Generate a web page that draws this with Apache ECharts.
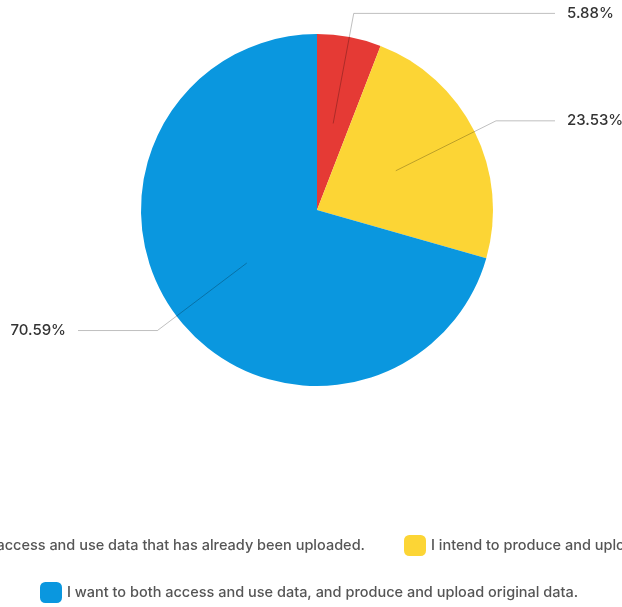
<!DOCTYPE html>
<html>
<head>
<meta charset="utf-8">
<script src="https://cdn.jsdelivr.net/npm/echarts@6/dist/echarts.min.js"></script>
<style>
html,body{margin:0;padding:0;background:#fff;}
#chart{width:622px;height:607px;}
</style>
</head>
<body>
<div id="chart"></div>
<script>
const categories = [
  "I want to access and use data that has already been uploaded.",
  "I intend to produce and upload original data.",
  "I want to both access and use data, and produce and upload original data."
];
const percentValues = [5.88, 23.53, 70.59];
const sliceColors = ["#E53A35", "#FCD535", "#0A97DF"];

const FONT = "Inter";
const CENTER = [317, 210];
const RADIUS = 176;

const chart = echarts.init(document.getElementById('chart'), null, {renderer: 'canvas'});

const total = percentValues.reduce((a, b) => a + b, 0);
const cum = [];
let acc = 0;
percentValues.forEach(v => { cum.push(acc + v / 2); acc += v; });

function pointAt(idx, r) {
  const theta = Math.PI / 2 - 2 * Math.PI * (cum[idx] / total);
  return [CENTER[0] + r * Math.cos(theta), CENTER[1] - r * Math.sin(theta)];
}

const LEGEND_FS = 14.5;
const cvs = document.createElement('canvas').getContext('2d');
cvs.font = '500 ' + LEGEND_FS + 'px ' + FONT;
const item1W = cvs.measureText(categories[0]).width;
const legend1Left = 365 - 22 - 5 - item1W;

const pieData = categories.map((c, i) => ({name: c, value: percentValues[i]}));

const legendText = {fontFamily: FONT, fontSize: LEGEND_FS, fontWeight: 500, color: '#555'};

const option = {
  animation: false,
  color: sliceColors,
  legend: [
    {
      data: [categories[0], categories[1]],
      left: legend1Left,
      top: 535,
      width: 1400,
      padding: 0,
      itemGap: 39,
      itemWidth: 22,
      itemHeight: 21,
      icon: 'roundRect',
      textStyle: legendText
    },
    {
      data: [categories[2]],
      left: 40,
      top: 582,
      padding: 0,
      itemWidth: 22,
      itemHeight: 21,
      icon: 'roundRect',
      textStyle: legendText
    }
  ],
  series: [
    {
      type: 'pie',
      center: CENTER,
      radius: RADIUS,
      startAngle: 90,
      clockwise: true,
      z: 2,
      data: pieData,
      label: {show: false},
      labelLine: {show: false},
      emphasis: {disabled: true}
    },
    {
      type: 'pie',
      center: CENTER,
      radius: RADIUS,
      startAngle: 90,
      clockwise: true,
      z: 5,
      silent: true,
      avoidLabelOverlap: false,
      data: pieData,
      itemStyle: {color: 'rgba(0,0,0,0)'},
      emphasis: {disabled: true},
      label: {
        show: true,
        position: 'outside',
        formatter: p => percentValues[p.dataIndex].toFixed(2) + '%',
        fontFamily: FONT,
        fontSize: 15,
        fontWeight: 500,
        color: '#333'
      },
      labelLine: {
        show: true,
        length: 24,
        length2: 40,
        lineStyle: {color: 'rgba(0,0,0,0.25)', width: 1}
      },
      labelLayout: function (params) {
        const i = params.dataIndex;
        const p0 = pointAt(i, RADIUS * 0.5);
        const p1 = pointAt(i, RADIUS + 24);
        const right = p1[0] > CENTER[0];
        const endX = right ? 555 : 78;
        return {
          x: right ? 567 : 66,
          y: p1[1],
          align: right ? 'left' : 'right',
          verticalAlign: 'middle',
          labelLinePoints: [p0, p1, [endX, p1[1]]]
        };
      }
    }
  ]
};
chart.setOption(option);
</script>
</body>
</html>
